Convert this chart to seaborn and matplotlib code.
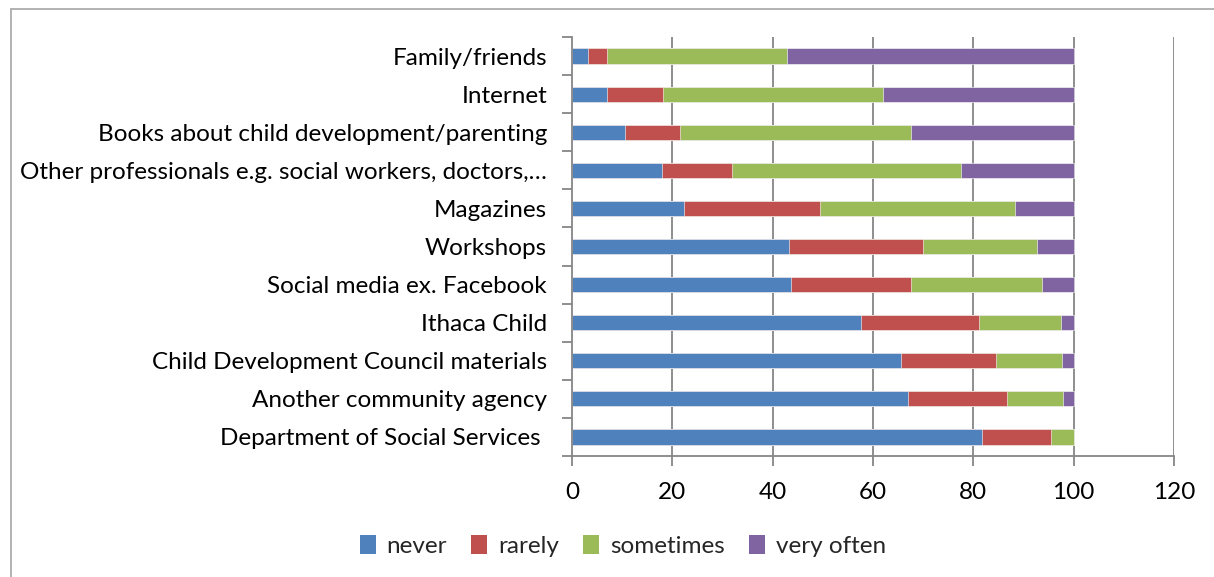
import numpy as np
import pandas as pd
import matplotlib
matplotlib.use("Agg")
import matplotlib.pyplot as plt
from matplotlib.lines import Line2D
from matplotlib.patches import Patch
import seaborn as sns

categories = [
    "Family/friends",
    "Internet",
    "Books about child development/parenting",
    "Other professionals e.g. social workers, doctors,\u2026",
    "Magazines",
    "Workshops",
    "Social media ex. Facebook",
    "Ithaca Child",
    "Child Development Council materials",
    "Another community agency",
    "Department of Social Services ",
]
series_names = ["never", "rarely", "sometimes", "very often"]
never = [3.2, 7.0, 10.5, 17.9, 22.3, 43.2, 43.6, 57.6, 65.6, 66.9, 81.8]
rarely = [3.7, 11.1, 11.1, 13.9, 27.2, 26.8, 23.9, 23.5, 19.0, 19.9, 13.6]
sometimes = [36.0, 43.8, 46.0, 45.8, 38.9, 22.7, 26.2, 16.3, 13.0, 11.1, 4.6]
very_often = [57.1, 38.1, 32.4, 22.4, 11.6, 7.3, 6.3, 2.6, 2.4, 2.1, 0.0]
x_ticks = [0, 20, 40, 60, 80, 100, 120]

colors = ["#4F81BD", "#C0504D", "#9BBB59", "#8064A2"]

sns.set_theme(style="white")
plt.rcParams["font.family"] = ["Lato", "DejaVu Sans"]

df = pd.DataFrame({"category": categories, "never": never, "rarely": rarely,
                   "sometimes": sometimes, "very often": very_often})
cum = df[series_names].cumsum(axis=1)

fig = plt.figure(figsize=(12.14, 5.77), dpi=100)
ax = fig.add_axes([572 / 1214, 1 - 456 / 577, (1174 - 572) / 1214, (456 - 37) / 577])

for i in range(len(series_names) - 1, -1, -1):
    name = series_names[i]
    sns.barplot(x=cum[name], y=df["category"], order=categories, orient="h",
                color=colors[i], saturation=1, width=0.4, ax=ax,
                edgecolor="white", linewidth=0.4)

fs = 17.5
grid_c = "#868686"
ax.set_xlim(0, 120)
ax.set_ylim(len(categories) - 0.5, -0.5)
ax.set_xticks(x_ticks)
ax.set_xticklabels([str(t) for t in x_ticks], fontsize=fs)
ax.set_yticks(range(len(categories)))
ax.set_yticklabels(categories, fontsize=fs)
ax.set_xlabel("")
ax.set_ylabel("")
ax.set_axisbelow(True)
for t in x_ticks[1:]:
    ax.axvline(t, color=grid_c, lw=1.3, zorder=0)
for s in ["top", "right"]:
    ax.spines[s].set_visible(False)
for s in ["left", "bottom"]:
    ax.spines[s].set_color(grid_c)
    ax.spines[s].set_linewidth(1.3)
ax.set_yticks(np.arange(-0.5, len(categories), 1.0), minor=True)
ax.tick_params(axis="y", which="major", length=0, pad=18, colors="black")
ax.tick_params(axis="y", which="minor", length=7, width=1.3, color=grid_c, left=True)
ax.tick_params(axis="x", which="major", length=7, width=1.3, color=grid_c, pad=12,
               bottom=True, labelcolor="black")

handles = [Patch(facecolor=c, edgecolor="none", label=n) for c, n in zip(colors, series_names)]
fig.legend(handles=handles, loc="center", bbox_to_anchor=(623 / 1214, 1 - 546 / 577),
           ncol=4, frameon=False, fontsize=fs, handlelength=0.65, handleheight=0.85,
           handletextpad=0.45, columnspacing=1.0)

# outer frame of the chart
fig.add_artist(Line2D([11 / 1214, 1.0], [1 - 9 / 577, 1 - 9 / 577],
                      transform=fig.transFigure, color="#a6a6a6", lw=1.2))
fig.add_artist(Line2D([11 / 1214, 11 / 1214], [0.0, 1 - 9 / 577],
                      transform=fig.transFigure, color="#a6a6a6", lw=1.2))

fig.savefig("out.png", dpi=100, facecolor="white")
